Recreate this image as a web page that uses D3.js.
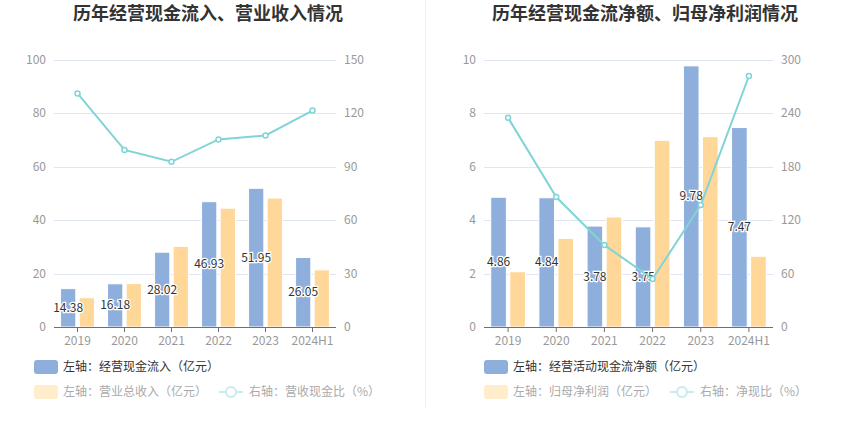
<!DOCTYPE html>
<html>
<head>
<meta charset="utf-8">
<script src="https://cdn.jsdelivr.net/npm/d3@7/dist/d3.min.js"></script>
<style>
  body { margin: 0; background: #fff; }
  svg { font-family: "Noto Sans CJK SC", "Noto Sans", sans-serif; }
</style>
</head>
<body>
<svg id="chart" width="850" height="437"></svg>
<script>
const years = ["2019", "2020", "2021", "2022", "2023", "2024H1"];

// left panel
const cashInflow = [14.38, 16.18, 28.02, 46.93, 51.95, 26.05];
const revenue = [10.96, 16.25, 30.2, 44.5, 48.3, 21.4];
const cashRevRatio = [131.2, 99.5, 92.8, 105.4, 107.6, 121.6];

// right panel
const netCashFlow = [4.86, 4.84, 3.78, 3.75, 9.78, 7.47];
const netProfit = [2.07, 3.32, 4.12, 6.99, 7.13, 2.65];
const cashProfitRatio = [235, 146, 92, 54, 137, 282];

const leftTicks = [[0, 20, 40, 60, 80, 100], [0, 2, 4, 6, 8, 10]];
const rightTicks = [[0, 30, 60, 90, 120, 150], [0, 60, 120, 180, 240, 300]];

const blue = "#8eaedb", orange = "#ffd899", cyan = "#80d4d8";
const svg = d3.select("#chart");

// divider between panels
svg.append("line")
  .attr("x1", 425.5).attr("x2", 425.5)
  .attr("y1", 0).attr("y2", 408)
  .attr("stroke", "#eeeeee");

const panels = [
  {
    title: "历年经营现金流入、营业收入情况", titleX: 208,
    x0: 54, x1: 336, bars: [cashInflow, revenue], line: cashRevRatio,
    yMax: 100, y2Max: 150, ticks: leftTicks[0], ticks2: rightTicks[0],
    legend: ["左轴：经营现金流入（亿元）", "左轴：营业总收入（亿元）", "右轴：营收现金比（%）"],
    legX: 34, leg2X: 219
  },
  {
    title: "历年经营现金流净额、归母净利润情况", titleX: 645,
    x0: 484, x1: 773, bars: [netCashFlow, netProfit], line: cashProfitRatio,
    yMax: 10, y2Max: 300, ticks: leftTicks[1], ticks2: rightTicks[1],
    legend: ["左轴：经营活动现金流净额（亿元）", "左轴：归母净利润（亿元）", "右轴：净现比（%）"],
    legX: 484, leg2X: 670
  }
];

const plotTop = 60, plotBottom = 327;

panels.forEach((p) => {
  const g = svg.append("g");

  g.append("text")
    .attr("x", p.titleX).attr("y", 20)
    .attr("text-anchor", "middle")
    .attr("font-size", 18).attr("font-weight", "bold")
    .attr("fill", "#333")
    .text(p.title);

  const x = d3.scaleBand().domain(years).range([p.x0, p.x1]).paddingInner(0.28).paddingOuter(0.14);
  const band = d3.scaleBand().domain(years).range([p.x0, p.x1]);
  const sub = d3.scaleBand().domain([0, 1]).range([0, x.bandwidth()]).paddingInner(0.18);
  const y = d3.scaleLinear().domain([0, p.yMax]).range([plotBottom, plotTop]);
  const y2 = d3.scaleLinear().domain([0, p.y2Max]).range([plotBottom, plotTop]);

  // grid
  g.selectAll(".grid").data(p.ticks.slice(1)).enter().append("line")
    .attr("x1", p.x0).attr("x2", p.x1)
    .attr("y1", (d) => Math.round(y(d)) + 0.5).attr("y2", (d) => Math.round(y(d)) + 0.5)
    .attr("stroke", "#e0e6f1");

  // left tick labels
  g.selectAll(".yl").data(p.ticks).enter().append("text")
    .attr("x", p.x0 - 8).attr("y", (d) => y(d) + 4)
    .attr("text-anchor", "end").attr("font-size", 12).attr("fill", "#999")
    .text((d) => d);

  // right tick labels
  g.selectAll(".yr").data(p.ticks2).enter().append("text")
    .attr("x", p.x1 + 8).attr("y", (d) => y2(d) + 4)
    .attr("text-anchor", "start").attr("font-size", 12).attr("fill", "#999")
    .text((d) => d);

  // bars
  p.bars.forEach((series, i) => {
    g.selectAll(".bar" + i).data(series).enter().append("rect")
      .attr("x", (d, j) => x(years[j]) + sub(i))
      .attr("y", (d) => y(d))
      .attr("width", sub.bandwidth())
      .attr("height", (d) => plotBottom - y(d))
      .attr("fill", i === 0 ? blue : orange)
      .attr("stroke", "#fff").attr("stroke-width", 1);
  });

  // x axis
  g.append("line")
    .attr("x1", p.x0).attr("x2", p.x1)
    .attr("y1", plotBottom + 0.5).attr("y2", plotBottom + 0.5)
    .attr("stroke", "#6e7079");
  g.selectAll(".xt").data(years).enter().append("line")
    .attr("x1", (d) => band(d) + band.bandwidth() / 2).attr("x2", (d) => band(d) + band.bandwidth() / 2)
    .attr("y1", plotBottom).attr("y2", plotBottom + 5)
    .attr("stroke", "#6e7079");
  g.selectAll(".xl").data(years).enter().append("text")
    .attr("x", (d) => band(d) + band.bandwidth() / 2).attr("y", plotBottom + 18)
    .attr("text-anchor", "middle").attr("font-size", 12).attr("fill", "#999")
    .text((d) => d);

  // value labels on first series
  g.selectAll(".vl").data(p.bars[0]).enter().append("text")
    .attr("x", (d, j) => x(years[j]) + sub(0) + sub.bandwidth() / 2)
    .attr("y", (d) => (y(d) + plotBottom) / 2 + 4)
    .attr("text-anchor", "middle").attr("font-size", 12)
    .attr("fill", "#333").attr("stroke", "#fff").attr("stroke-width", 2.5)
    .attr("paint-order", "stroke")
    .text((d) => d.toFixed(2));

  // ratio line
  const cx = (j) => band(years[j]) + band.bandwidth() / 2;
  g.append("path")
    .datum(p.line)
    .attr("d", d3.line().x((d, j) => cx(j)).y((d) => y2(d)))
    .attr("fill", "none").attr("stroke", cyan).attr("stroke-width", 2);
  g.selectAll(".pt").data(p.line).enter().append("circle")
    .attr("cx", (d, j) => cx(j)).attr("cy", (d) => y2(d)).attr("r", 2.5)
    .attr("fill", "#fff").attr("stroke", cyan).attr("stroke-width", 1.5);

  // legend
  const row1 = 367, row2 = 392;
  g.append("rect").attr("x", p.legX).attr("y", row1 - 7).attr("width", 24).attr("height", 14)
    .attr("rx", 3).attr("fill", blue);
  g.append("text").attr("x", p.legX + 29).attr("y", row1 + 4)
    .attr("font-size", 12).attr("fill", "#333").text(p.legend[0]);

  g.append("rect").attr("x", p.legX).attr("y", row2 - 7).attr("width", 24).attr("height", 14)
    .attr("rx", 3).attr("fill", "#ffedcc");
  g.append("text").attr("x", p.legX + 29).attr("y", row2 + 4)
    .attr("font-size", 12).attr("fill", "#aaa").text(p.legend[1]);

  g.append("line").attr("x1", p.leg2X).attr("x2", p.leg2X + 24)
    .attr("y1", row2).attr("y2", row2)
    .attr("stroke", "#c6eced").attr("stroke-width", 2);
  g.append("circle").attr("cx", p.leg2X + 12).attr("cy", row2).attr("r", 5)
    .attr("fill", "#fff").attr("stroke", "#c6eced").attr("stroke-width", 2);
  g.append("text").attr("x", p.leg2X + 30).attr("y", row2 + 4)
    .attr("font-size", 12).attr("fill", "#aaa").text(p.legend[2]);
});
</script>
</body>
</html>
